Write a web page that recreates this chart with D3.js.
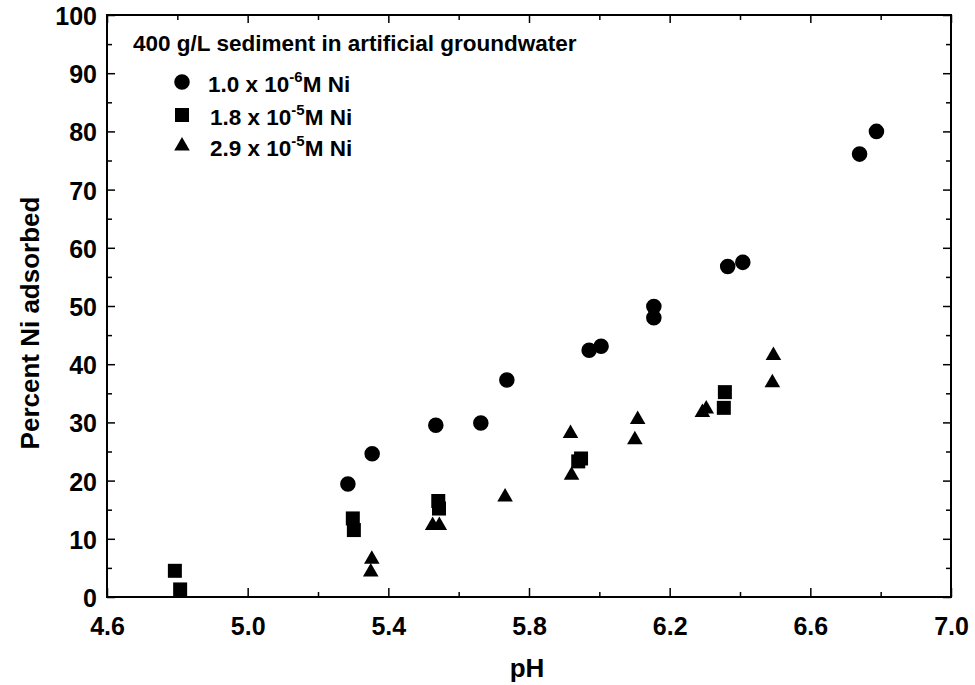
<!DOCTYPE html>
<html>
<head>
<meta charset="utf-8">
<script src="https://cdn.jsdelivr.net/npm/d3@7"></script>
<style>
  html, body { margin: 0; padding: 0; background: #fff; }
  svg { display: block; }
  text { font-family: "Liberation Sans", Arial, Helvetica, sans-serif; font-weight: bold; fill: #000; }
</style>
</head>
<body>
<svg id="chart" width="975" height="685"></svg>
<script>
// ---- data ----
const xTicks = [4.6, 5.0, 5.4, 5.8, 6.2, 6.6, 7.0];
const xTickLabels = ["4.6", "5.0", "5.4", "5.8", "6.2", "6.6", "7.0"];
const yTicks = [0, 10, 20, 30, 40, 50, 60, 70, 80, 90, 100];

const circlePH  = [5.285, 5.354, 5.535, 5.663, 5.737, 5.971, 6.005, 6.155, 6.155, 6.365, 6.408, 6.740, 6.788];
const circlePct = [19.4, 24.6, 29.5, 29.9, 37.3, 42.4, 43.1, 49.9, 48.0, 56.8, 57.5, 76.1, 80.0];

const squarePH  = [4.793, 4.808, 5.299, 5.302, 5.542, 5.544, 5.940, 5.948, 6.354, 6.357];
const squarePct = [4.5, 1.3, 13.5, 11.5, 16.5, 15.2, 23.3, 23.8, 32.5, 35.2];

const trianglePH  = [5.353, 5.350, 5.526, 5.545, 5.732, 5.918, 5.921, 6.101, 6.109, 6.293, 6.304, 6.492, 6.495];
const trianglePct = [6.5, 4.3, 12.3, 12.3, 17.2, 28.1, 20.9, 27.0, 30.5, 31.7, 32.3, 36.8, 41.5];

const legendTitle = "400 g/L sediment in artificial groundwater";
const legendLabels = [
  { base: "1.0 x 10", sup: "-6", tail: "M Ni" },
  { base: "1.8 x 10", sup: "-5", tail: "M Ni" },
  { base: "2.9 x 10", sup: "-5", tail: "M Ni" }
];
const xTitle = "pH";
const yTitle = "Percent Ni adsorbed";

// ---- layout ----
const L = 107, R = 951, T = 15, B = 597;
const svg = d3.select("#chart");
const x = d3.scaleLinear().domain([4.6, 7.0]).range([L, R]);
const y = d3.scaleLinear().domain([0, 100]).range([B, T]);

const sym = {
  circle: d3.symbol().type(d3.symbolCircle).size(190),
  square: d3.symbol().type(d3.symbolSquare).size(196),
  triangle: d3.symbol().type(d3.symbolTriangle).size(105)
};

// frame
svg.append("rect").attr("x", L).attr("y", T).attr("width", R - L).attr("height", B - T)
  .attr("fill", "none").attr("stroke", "#000").attr("stroke-width", 2);

// axes (ticks inward)
const xMinor = d3.range(4.8, 7.0, 0.4);
const yMinor = d3.range(5, 100, 10);

function noDomain(g) { g.select(".domain").remove(); g.selectAll("line").attr("stroke-width", 1.5); }

const axB = svg.append("g").attr("transform", `translate(0,${B})`)
  .call(d3.axisBottom(x).tickValues(xTicks).tickSize(-9).tickPadding(20)
    .tickFormat((d, i) => xTickLabels[i]));
noDomain(axB);
axB.selectAll("text").attr("font-size", 25).attr("dy", "0.71em")
  .style("font-family", "'Liberation Sans', Arial, sans-serif").style("font-weight", "bold");
noDomain(svg.append("g").attr("transform", `translate(0,${B})`)
  .call(d3.axisBottom(x).tickValues(xMinor).tickSize(-5).tickFormat("")));

noDomain(svg.append("g").attr("transform", `translate(0,${T})`)
  .call(d3.axisTop(x).tickValues(xTicks).tickSize(-8).tickFormat("")));
noDomain(svg.append("g").attr("transform", `translate(0,${T})`)
  .call(d3.axisTop(x).tickValues(xMinor).tickSize(-5).tickFormat("")));

const axL = svg.append("g").attr("transform", `translate(${L},0)`)
  .call(d3.axisLeft(y).tickValues(yTicks).tickSize(-8).tickPadding(10));
noDomain(axL);
axL.selectAll("text").attr("font-size", 25).attr("dy", "0.38em")
  .style("font-family", "'Liberation Sans', Arial, sans-serif").style("font-weight", "bold");
noDomain(svg.append("g").attr("transform", `translate(${L},0)`)
  .call(d3.axisLeft(y).tickValues(yMinor).tickSize(-5).tickFormat("")));

noDomain(svg.append("g").attr("transform", `translate(${R},0)`)
  .call(d3.axisRight(y).tickValues(yTicks).tickSize(-8).tickFormat("")));
noDomain(svg.append("g").attr("transform", `translate(${R},0)`)
  .call(d3.axisRight(y).tickValues(yMinor).tickSize(-5).tickFormat("")));

// axis titles
svg.append("text").attr("x", 527).attr("y", 677).attr("text-anchor", "middle")
  .attr("font-size", 26).text(xTitle);
svg.append("text").attr("transform", "translate(39,323) rotate(-90)").attr("text-anchor", "middle")
  .attr("font-size", 26).text(yTitle);

// data points
function plot(xs, ys, s) {
  svg.append("g").selectAll("path").data(xs.map((v, i) => [v, ys[i]])).join("path")
    .attr("d", s).attr("fill", "#000")
    .attr("transform", d => `translate(${x(d[0])},${y(d[1])})`);
}
plot(circlePH, circlePct, sym.circle);
plot(squarePH, squarePct, sym.square);
plot(trianglePH, trianglePct, sym.triangle);

// legend
svg.append("text").attr("x", 133).attr("y", 51).attr("font-size", 22.5).text(legendTitle);
const legSyms = [sym.circle, sym.square, sym.triangle];
const legY = [82, 115, 146];
legendLabels.forEach((lab, i) => {
  svg.append("path").attr("d", legSyms[i]).attr("fill", "#000")
    .attr("transform", `translate(182,${legY[i]})`);
  const t = svg.append("text").attr("x", i === 0 ? 208 : 210).attr("y", legY[i] + 10).attr("font-size", 22.5);
  t.append("tspan").text(lab.base);
  t.append("tspan").attr("font-size", 15).attr("dy", -10).text(lab.sup);
  t.append("tspan").attr("dy", 10).text(lab.tail);
});
</script>
</body>
</html>
